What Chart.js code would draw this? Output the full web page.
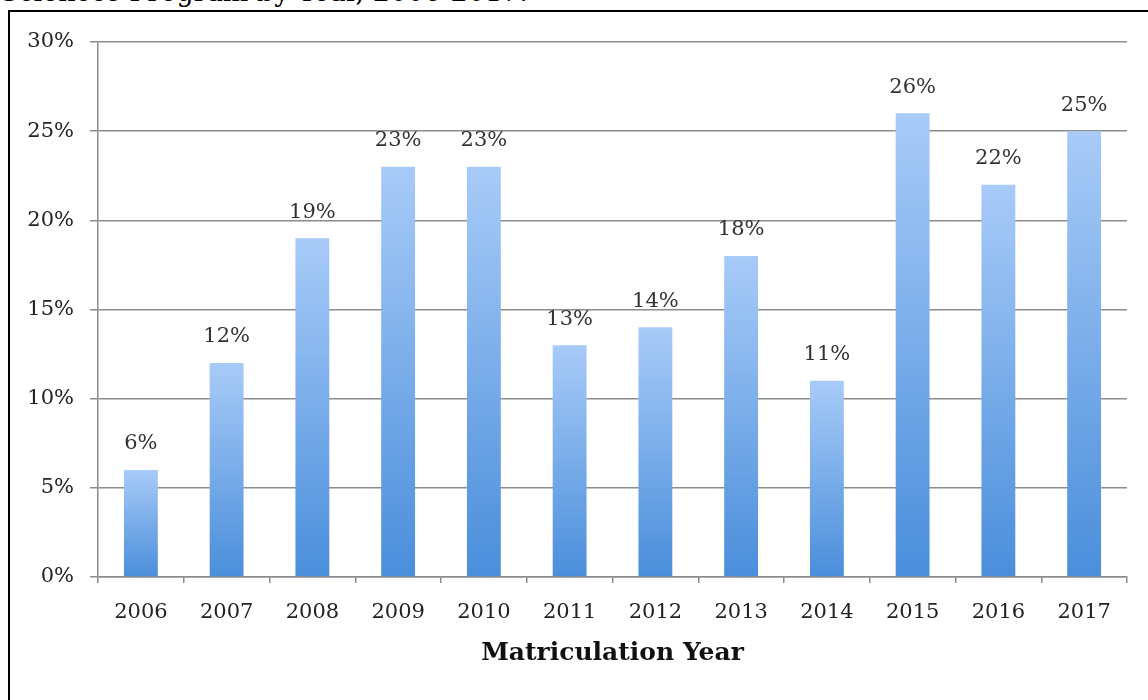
<!DOCTYPE html>
<html>
<head>
<meta charset="utf-8">
<script src="https://cdn.jsdelivr.net/npm/chart.js@4"></script>
<style>
  html, body { margin: 0; padding: 0; background: #fff; overflow: hidden; }
  #wrap { position: relative; width: 1148px; height: 700px; overflow: hidden; }
  #cap { position: absolute; left: 0px; top: -22px; font: 27px "DejaVu Serif", serif; line-height: 27px; color: #000; white-space: nowrap; }
  #frame { position: absolute; left: 8px; top: 10px; width: 1160px; height: 720px; border: 2px solid #000; box-sizing: border-box; }
  canvas { position: absolute; left: 0; top: 0; }
</style>
</head>
<body>
<div id="wrap">
  <div id="cap">Sciences Program by Year, 2006-2017.</div>
  <div id="frame"></div>
  <canvas id="c" width="1148" height="700"></canvas>
</div>
<script>
const years = ['2006','2007','2008','2009','2010','2011','2012','2013','2014','2015','2016','2017'];
const percents = [6, 12, 19, 23, 23, 13, 14, 18, 11, 26, 22, 25];
const yTicks = [0, 5, 10, 15, 20, 25, 30];
const xTitle = 'Matriculation Year';

const SERIF = '"DejaVu Serif", serif';

function barGradient(ctx) {
  const chart = ctx.chart;
  const area = chart.chartArea;
  if (!area || ctx.type !== 'data') return '#7aaee9';
  const ys = chart.scales.y;
  const top = ys.getPixelForValue(ctx.raw);
  const base = ys.getPixelForValue(0);
  const g = chart.ctx.createLinearGradient(0, top, 0, base);
  g.addColorStop(0, '#a8cbf8');
  g.addColorStop(1, '#4a8edb');
  return g;
}

const labelPlugin = {
  id: 'valueLabels',
  afterDatasetsDraw(chart) {
    const ctx = chart.ctx;
    const meta = chart.getDatasetMeta(0);
    ctx.save();
    ctx.font = '21px ' + SERIF;
    ctx.fillStyle = '#333';
    ctx.textAlign = 'center';
    ctx.textBaseline = 'middle';
    meta.data.forEach((el, i) => {
      ctx.fillText(percents[i] + '%', el.x, el.y - 26);
    });
    ctx.restore();
  }
};

new Chart(document.getElementById('c'), {
  type: 'bar',
  data: {
    labels: years,
    datasets: [{
      data: percents,
      backgroundColor: barGradient,
      borderWidth: 0,
      categoryPercentage: 1.0,
      barPercentage: 0.395
    }]
  },
  options: {
    responsive: false,
    animation: false,
    devicePixelRatio: 1,
    layout: { padding: { left: 0, right: 21, top: 42, bottom: 0 } },
    plugins: { legend: { display: false }, tooltip: { enabled: false } },
    scales: {
      x: {
        grid: { display: true, drawOnChartArea: false, offset: true, color: '#8c8c8c', tickLength: 6, lineWidth: 1.5 },
        border: { display: true, color: '#8c8c8c', width: 1.5 },
        ticks: { color: '#222', font: { family: SERIF, size: 21 }, padding: 17, maxRotation: 0 },
        title: { display: true, text: xTitle, color: '#111', font: { family: SERIF, size: 25, weight: 'bold' }, padding: { top: 0, bottom: 32 } },
        afterFit(s) { s.height = 123; }
      },
      y: {
        min: 0, max: 30,
        afterBuildTicks(s) { s.ticks = yTicks.map(v => ({ value: v })); },
        grid: { color: '#8c8c8c', lineWidth: 1.5, tickLength: 8, drawTicks: true },
        border: { display: true, color: '#8c8c8c', width: 1.5 },
        ticks: { color: '#222', font: { family: SERIF, size: 21 }, padding: 16, callback: v => v + '%' },
        afterFit(s) { s.width = 98; }
      }
    }
  },
  plugins: [labelPlugin]
});
</script>
</body>
</html>
